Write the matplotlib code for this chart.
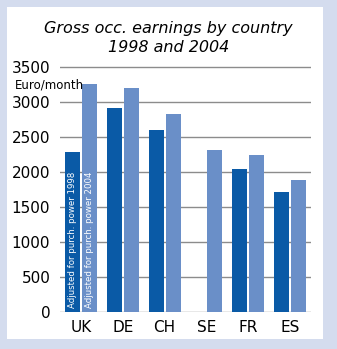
import numpy as np
import matplotlib.pyplot as plt
from matplotlib.patches import Rectangle
from matplotlib import font_manager

# Datos
countries = ['UK', 'DE', 'CH', 'SE', 'FR', 'ES']
earn_1998 = [2290, 2910, 2600, np.nan, 2040, 1710]
earn_2004 = [3260, 3200, 2830, 2310, 2250, 1890]
yticks = [0, 500, 1000, 1500, 2000, 2500, 3000, 3500]

dark = '#0a5aa6'
light = '#6a8fc8'
grid_c = '#8c8c8c'

# Fuente estrecha si existe
names = {f.name for f in font_manager.fontManager.ttflist}
if 'Liberation Sans Narrow' in names:
    cond, cond_size = 'Liberation Sans Narrow', 8
elif 'DejaVu Sans Condensed' in names:
    cond, cond_size = 'DejaVu Sans Condensed', 6.8
else:
    cond, cond_size = 'DejaVu Sans', 6.2

fig = plt.figure(figsize=(3.37, 3.49), dpi=100, facecolor='#d4dcee')
fig.patches.append(Rectangle((7/337, 10/349), 316/337, 332/349, transform=fig.transFigure,
                             facecolor='white', edgecolor='none', zorder=-1))

ax = fig.add_axes([60/337, 37/349, 251/337, 246.4/349])
ax.set_facecolor('none')

x = np.arange(len(countries))
w = 15/42
ax.bar(x - w/2 - 0.025, earn_1998, width=w, color=dark, zorder=3)
ax.bar(x + w/2 + 0.025, earn_2004, width=w, color=light, zorder=3)

ax.set_xlim(-0.5, 5.5)
ax.set_ylim(0, 3520)
ax.set_yticks(yticks)
ax.set_xticks(x)
ax.set_xticklabels(countries, fontsize=11)
ax.tick_params(axis='both', length=0, labelsize=11)
ax.tick_params(axis='y', pad=7)
ax.tick_params(axis='x', pad=6)
for s in ax.spines.values():
    s.set_visible(False)
ax.grid(axis='y', color=grid_c, linewidth=1, zorder=1)

# Texto vertical dentro de las barras de UK
ax.text(x[0] - w/2 - 0.025, 50, 'Adjusted for purch. power 1998', rotation=90,
        color='white', ha='center', va='bottom', fontsize=cond_size, family=cond, zorder=4)
ax.text(x[0] + w/2 + 0.025, 50, 'Adjusted for purch. power 2004', rotation=90,
        color='white', ha='center', va='bottom', fontsize=cond_size, family=cond, zorder=4)

fig.text(0.5, 0.94, 'Gross occ. earnings by country\n1998 and 2004', ha='center', va='top',
         fontsize=11.5, style='italic', linespacing=1.3)
fig.text(15/337, 1 - 88/349, 'Euro/month', fontsize=8.5, ha='left', va='baseline')

fig.savefig('out.png', dpi=100, facecolor=fig.get_facecolor())
